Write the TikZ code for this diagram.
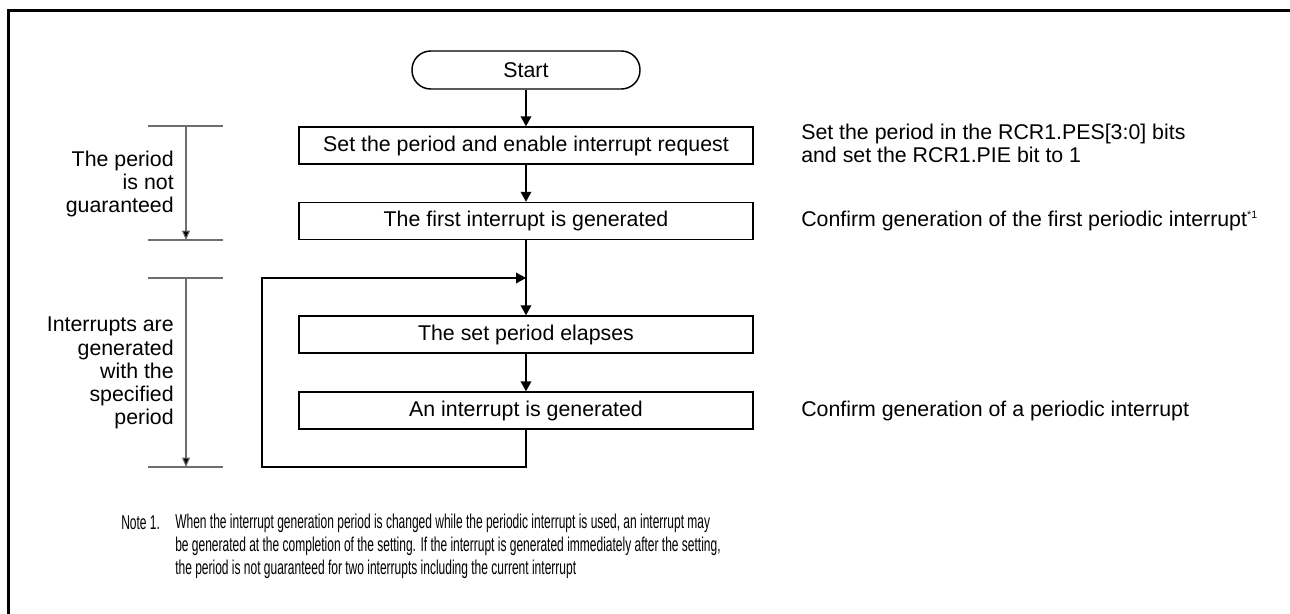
\documentclass[tikz,border=0pt]{standalone}
\usepackage{fontspec}
\setmainfont{Liberation Sans}
\newfontfamily\notefont[FakeStretch=0.6]{Liberation Sans}
\usetikzlibrary{positioning, arrows.meta}
\definecolor{rtcgray}{RGB}{110, 110, 110}

\tikzset{
  flowbox/.style={draw, line width=1.1pt, minimum width=340.5pt, minimum height=27.75pt,
    inner sep=0pt, font=\fontsize{16}{17.3}\selectfont},
  termbox/.style={draw, line width=1.1pt, rounded corners=14pt, minimum width=171pt,
    minimum height=28.5pt, inner sep=0pt, font=\fontsize{16}{17.3}\selectfont},
  sidetext/.style={align=left, anchor=west, inner sep=0pt, font=\fontsize{16}{17.3}\selectfont},
  spantext/.style={align=right, anchor=east, inner sep=0pt, font=\fontsize{16}{17.3}\selectfont},
  notetext/.style={inner sep=0pt, font=\fontsize{15}{17.3}\notefont},
  flow/.style={line width=1.1pt, -{Triangle[length=7.5pt, width=8pt]}},
  span/.style={draw=rtcgray, line width=0.8pt},
  spanarrow/.style={span, -{Triangle[length=7pt, width=6pt, fill=black]}}
}

\begin{document}
\begin{tikzpicture}[x=0.75pt, y=-0.75pt]
  \useasboundingbox (0,0) rectangle (1290,614);

  % Frame
  \draw[line width=2.3pt] (8.5,614) -- (8.5,10.5) -- (1290,10.5);

  % Flow
  \node[termbox] (start) at (526,70) {Start};
  \node[flowbox] (setp) at (526,145.5) {Set the period and enable interrupt request};
  \node[flowbox] (first) at (526,221) {The first interrupt is generated};
  \node[flowbox] (elapse) at (526,334.5) {The set period elapses};
  \node[flowbox] (intr) at (526,410.5) {An interrupt is generated};
  \coordinate (join) at (526,278);
  \coordinate (loopdn) at (526,467);

  \draw[flow] (start) -- (setp);
  \draw[flow] (setp) -- (first);
  \draw[flow] (first) -- (elapse);
  \draw[flow] (elapse) -- (intr);
  \draw[flow] (intr.south) -- (loopdn) -| (262,278) -- (join);

  % Notes on the right
  \node[sidetext] (setnote) at (801,143.5)
    {Set the period in the RCR1.PES[3:0] bits\\and set the RCR1.PIE bit to 1};
  \node[sidetext] (firstnote) at (801,221)
    {Confirm generation of the first periodic interrupt\textsuperscript{\fontsize{8}{8}\selectfont *1}};
  \node[sidetext] (intrnote) at (801,410.5) {Confirm generation of a periodic interrupt};

  % Spans on the left
  \coordinate (spanAt) at (186,126);
  \coordinate (spanAb) at (186,240);
  \coordinate (spanBt) at (186,278);
  \coordinate (spanBb) at (186,467);
  \draw[span] (148,126) -- (223,126);
  \draw[span] (148,240) -- (223,240);
  \draw[span] (148,278) -- (223,278);
  \draw[span] (148,467) -- (223,467);
  \draw[spanarrow] (spanAt) -- (spanAb);
  \draw[spanarrow] (spanBt) -- (spanBb);
  \node[spantext] (spanAtext) at (174,184) {The period\\is not\\guaranteed};
  \node[spantext] (spanBtext) at (174,373) {Interrupts are\\generated\\with the\\specified\\period};

  % Note 1
  \node[notetext, anchor=west] (notelabel) at (121,523) {Note 1.};
  \node[notetext, anchor=west, align=left] (notebody) at (175,546)
    {When the interrupt generation period is changed while the periodic interrupt is used, an interrupt may\\
     be generated at the completion of the setting. If the interrupt is generated immediately after the setting,\\
     the period is not guaranteed for two interrupts including the current interrupt};
\end{tikzpicture}
\end{document}
